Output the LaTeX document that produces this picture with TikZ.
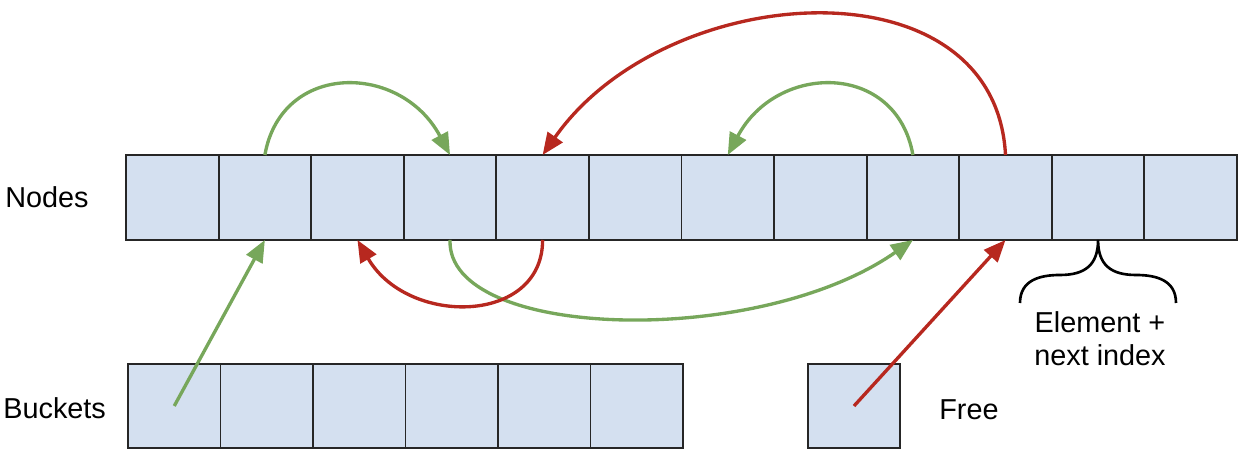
\documentclass[tikz,border=0pt]{standalone}
\usepackage{fontspec}
\setmainfont{Liberation Sans}
\usetikzlibrary{arrows.meta,positioning}
\definecolor{cellblue}{HTML}{D4E0F0}
\definecolor{lnkgreen}{HTML}{77A75B}
\definecolor{lnkred}{HTML}{B7281F}

\begin{document}
\begin{tikzpicture}[
    cell/.style={draw=black!85, fill=cellblue, line width=1.05pt, minimum width=1.85cm, minimum height=1.7cm, inner sep=0pt, outer sep=0pt},
    link/.style={-{Triangle[length=4.4mm,width=3.6mm]}, line width=1.9pt},
    lbl/.style={font=\fontsize{16.4}{19}\selectfont, inner sep=0pt}]
    \useasboundingbox (0,0) rectangle (24.96,9.22);
    % node array and buckets
    \foreach \i in {1,...,12}{\node[cell] (n\i) at ({2.52+1.8516*(\i-0.5)},5.27) {};}
    \foreach \i in {1,...,6}{\node[cell, minimum height=1.68cm] (b\i) at ({2.56+1.85*(\i-0.5)},1.1) {};}
    \node[cell, minimum width=1.84cm, minimum height=1.68cm] (free) at (17.08,1.1) {};
    \node[lbl, anchor=west] (nodeslbl) at (0.1,5.27) {Nodes};
    \node[lbl, anchor=west] (bktlbl) at (0.06,1.06) {Buckets};
    \node[lbl, anchor=west] (freelbl) at (18.78,1.02) {Free};
    \node[lbl, align=center] (elemlbl) at (22.0,2.45) {Element +\\next index};
    % links
    \draw[link, lnkgreen] (n2.north) .. controls +(80:1.9) and +(118:2.1) .. (n4.north);
    \draw[link, lnkgreen] (n9.north) .. controls +(100:1.9) and +(62:2.1) .. (n7.north);
    \draw[link, lnkred] (n10.north) .. controls +(93:3.95) and +(55:4.3) .. (n5.north);
    \draw[link, lnkgreen] (n4.south) .. controls +(-92:2.0) and +(-145:3.8) .. (n9.south);
    \draw[link, lnkred] (n5.south) .. controls +(-90:1.7) and +(-60:2.0) .. (n3.south);
    \draw[link, lnkgreen] (b1.center) -- (n2.south);
    \draw[link, lnkred] (free.center) -- (n10.south);
    % brace
    \draw[line width=1.5pt] (20.4,3.16) .. controls (20.4,3.62) and (20.8,3.72) .. (21.2,3.72)
        .. controls (21.7,3.72) and (21.96,3.92) .. (n11.south)
        .. controls (21.96,3.92) and (22.22,3.72) .. (22.72,3.72)
        .. controls (23.12,3.72) and (23.52,3.62) .. (23.52,3.16);
\end{tikzpicture}
\end{document}
